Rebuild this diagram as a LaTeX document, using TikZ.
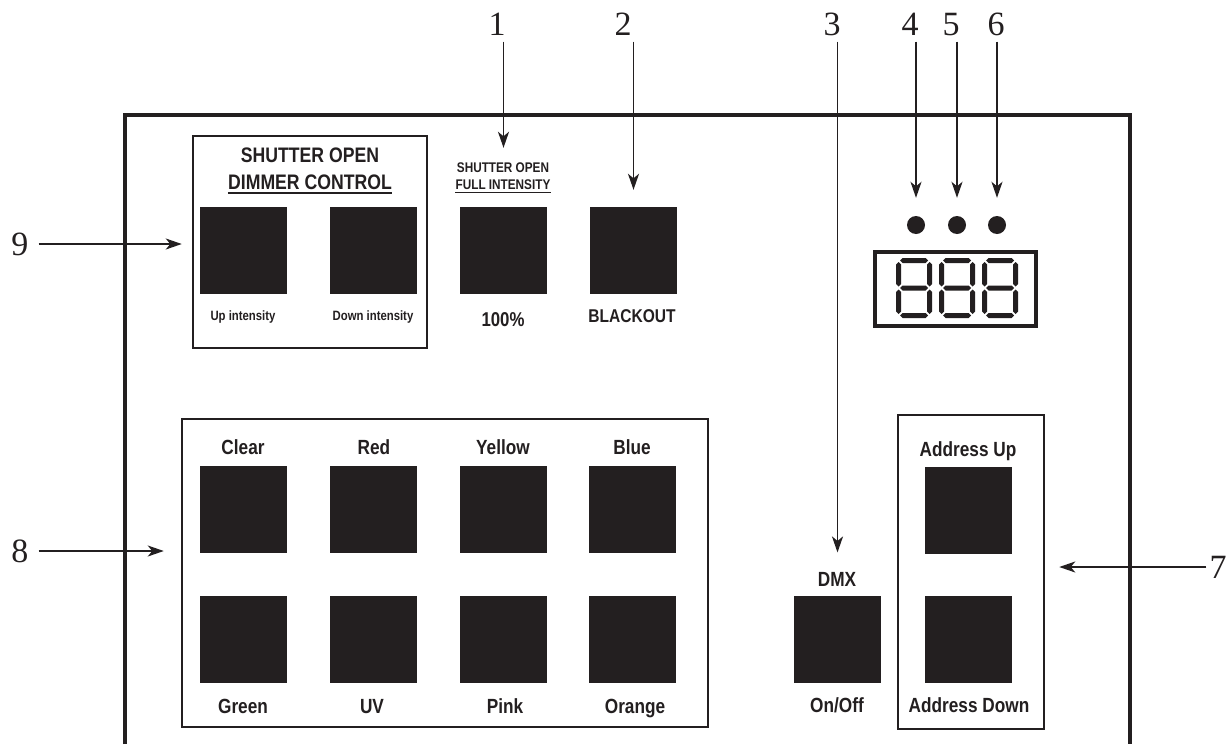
\documentclass[tikz,border=0pt]{standalone}
\usepackage{fontspec}
\setmainfont{Liberation Serif}
\newfontfamily\cond[FakeStretch=0.84]{Liberation Sans}
\usetikzlibrary{arrows.meta}
\definecolor{ink}{RGB}{35,31,32}
\tikzset{
  btn/.style={fill=ink, draw=none, minimum size=87pt, inner sep=0pt},
  panel/.style={draw=ink, line width=2.5pt, inner sep=0pt},
  lbl/.style={font=\cond\bfseries\fontsize{20.5}{22}\selectfont, text=ink, inner sep=0pt, text height=14.7pt, text depth=0pt},
  blk/.style={font=\cond\bfseries\fontsize{18.5}{20}\selectfont, text=ink, inner sep=0pt, text height=13.2pt, text depth=0pt},
  pct/.style={font=\cond\bfseries\fontsize{20}{22}\selectfont, text=ink, inner sep=0pt, text height=14.3pt, text depth=0pt},
  bigt/.style={font=\cond\bfseries\fontsize{21}{23}\selectfont, text=ink, inner sep=0pt, text height=15pt, text depth=0pt},
  smlt/.style={font=\cond\bfseries\fontsize{14}{16}\selectfont, text=ink, inner sep=0pt, text height=10pt, text depth=0pt},
  tinyt/.style={font=\cond\bfseries\fontsize{13.5}{15}\selectfont, text=ink, inner sep=0pt, text height=9.7pt, text depth=0pt},
  num/.style={font=\fontsize{34}{36}\selectfont, text=ink, inner sep=0pt, text height=23pt, text depth=0pt},
  arr/.style={draw=ink, line width=1.8pt, -{Stealth[length=16pt,width=11pt,inset=4.5pt]}},
  dot/.style={circle, fill=ink, minimum size=18pt, inner sep=0pt},
  sevenseg/.pic={
    \foreach \yy in {2.5,30,57.5}
      \fill[ink] (4,\yy) -- (6.5,\yy-2.5) -- (29.5,\yy-2.5) -- (32,\yy) -- (29.5,\yy+2.5) -- (6.5,\yy+2.5) -- cycle;
    \foreach \xx in {2.5,33.5}
      \foreach \ya/\yb in {4/28.5,31.5/56}
        \fill[ink] (\xx,\ya) -- (\xx+2.5,\ya+2.5) -- (\xx+2.5,\yb-2.5) -- (\xx,\yb) -- (\xx-2.5,\yb-2.5) -- (\xx-2.5,\ya+2.5) -- cycle;
  }
}
\begin{document}
\begin{tikzpicture}[x=1pt,y=-1pt]
\useasboundingbox (0,0) rectangle (1228,744);
\fill[white] (0,0) rectangle (1228,744);
% outer frame
\draw[draw=ink, line width=4pt, line join=miter] (125,744) -- (125,115) -- (1130,115) -- (1130,744);

% dimmer panel
\node[panel, minimum width=234pt, minimum height=212pt] (dim) at (310,242) {};
\node[bigt] (so1) at (310,155) {SHUTTER OPEN};
\node[bigt] (dc) at (310,182) {DIMMER CONTROL};
\draw[draw=ink, line width=1.6pt] ([yshift=-3.5pt]dc.south west) -- ([yshift=-3.5pt]dc.south east);
\node[btn] (up) at (243.5,250.5) {};
\node[btn] (down) at (373.5,250.5) {};
\node[tinyt] (upl) at (243,316) {Up intensity};
\node[tinyt] (downl) at (373,316) {Down intensity};

% full intensity
\node[smlt] (so2) at (503,167) {SHUTTER OPEN};
\node[smlt] (fi) at (503,184) {FULL INTENSITY};
\draw[draw=ink, line width=1.2pt] ([yshift=-3pt]fi.south west) -- ([yshift=-3pt]fi.south east);
\node[btn] (full) at (503.5,250.5) {};
\node[pct] (fulll) at (503,319) {100\%};

% blackout
\node[btn] (black) at (633.5,250.5) {};
\node[blk] (blackl) at (632,316) {BLACKOUT};

% LEDs and display
\node[dot] (d4) at (916,225) {};
\node[dot] (d5) at (957,225) {};
\node[dot] (d6) at (997,225) {};
\node[draw=ink, line width=4pt, minimum width=161pt, minimum height=74pt, inner sep=0pt] (disp) at (955.5,289) {};
\pic at (896,258) {sevenseg};
\pic at (939,258) {sevenseg};
\pic at (982,258) {sevenseg};

% colour panel
\node[panel, minimum width=526pt, minimum height=308pt] (col) at (445,573) {};
\node[btn] (clear) at (243.5,509.5) {};
\node[btn] (red) at (373.5,509.5) {};
\node[btn] (yellow) at (503.5,509.5) {};
\node[btn] (blue) at (632.5,509.5) {};
\node[btn] (green) at (243.5,639.5) {};
\node[btn] (uv) at (373.5,639.5) {};
\node[btn] (pink) at (503.5,639.5) {};
\node[btn] (orange) at (632.5,639.5) {};
\node[lbl] (clearl) at (243,447) {Clear};
\node[lbl] (redl) at (374,447) {Red};
\node[lbl] (yellowl) at (503,447) {Yellow};
\node[lbl] (bluel) at (632,447) {Blue};
\node[lbl] (greenl) at (243,706) {Green};
\node[lbl] (uvl) at (372,706) {UV};
\node[lbl] (pinkl) at (505,706) {Pink};
\node[lbl] (orangel) at (635,706) {Orange};

% DMX
\node[btn] (dmx) at (837.5,639.5) {};
\node[lbl] (dmxl) at (837,579) {DMX};
\node[lbl] (onoff) at (837,705) {On/Off};

% address panel
\node[panel, minimum width=146pt, minimum height=314pt] (addr) at (971,572) {};
\node[btn] (aup) at (968.5,510.5) {};
\node[btn] (adown) at (968.5,639.5) {};
\node[lbl] (aupl) at (968,449) {Address Up};
\node[lbl] (adownl) at (969,705) {Address Down};

% callout numbers
\node[num] (n1) at (497,24) {1};
\node[num] (n2) at (623,24) {2};
\node[num] (n3) at (832,24) {3};
\node[num] (n4) at (910,24) {4};
\node[num] (n5) at (951,24) {5};
\node[num] (n6) at (996,24) {6};
\node[num] (n7) at (1218,567) {7};
\node[num] (n8) at (20,551) {8};
\node[num] (n9) at (20,244) {9};

% callout arrows
\draw[arr, shorten <=6pt, shorten >=14pt] (n1.south -| full.north) -- (full.north |- so2.north);
\draw[arr, shorten <=6pt, shorten >=17pt] (n2.south -| black.north) -- (black.north);
\draw[arr, shorten <=6pt, shorten >=19pt] (n3.south -| dmx.north) -- (dmx.north |- dmxl.north);
\draw[arr, shorten <=6pt, shorten >=18pt] (n4.south -| d4) -- (d4.north);
\draw[arr, shorten <=6pt, shorten >=18pt] (n5.south -| d5) -- (d5.north);
\draw[arr, shorten <=6pt, shorten >=18pt] (n6.south -| d6) -- (d6.north);
\draw[arr, shorten <=3pt, shorten >=14pt] (n7.west) -- (n7.west -| addr.east);
\draw[arr, shorten <=10pt, shorten >=17pt] (n8.east) -- (n8.east -| col.west);
\draw[arr, shorten <=10pt, shorten >=10pt] (n9.east) -- (n9.east -| dim.west);
\end{tikzpicture}
\end{document}
